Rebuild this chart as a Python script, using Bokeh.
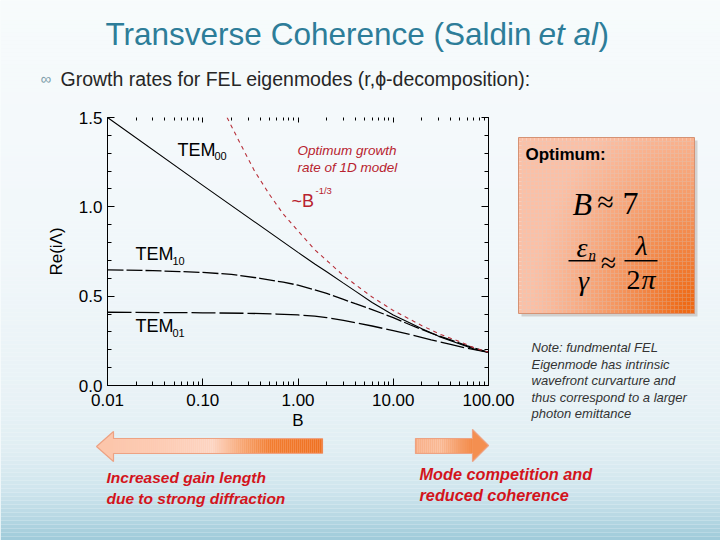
import math
from bokeh.plotting import figure
from bokeh.models import (Range1d, FixedTicker, NumeralTickFormatter, LogAxis, LinearAxis,
                          Label, GridBox)
from bokeh.embed import file_html
from bokeh.resources import INLINE

# ---------------- data ----------------
b_tem00 = [0.01, 0.1, 1, 1.5, 2, 3, 4, 6, 10, 15, 20, 30, 50, 70, 100]
re_tem00 = [1.50, 1.12, 0.745, 0.68, 0.637, 0.573, 0.528, 0.465, 0.395, 0.35, 0.318, 0.275,
            0.232, 0.205, 0.186]
b_tem10 = [0.01, 0.03, 0.1, 0.2, 0.4, 0.7, 1, 1.5, 2, 3, 4, 6, 10, 15, 25, 40, 60, 100]
re_tem10 = [0.647, 0.643, 0.633, 0.622, 0.600, 0.578, 0.562, 0.535, 0.515, 0.482, 0.458,
            0.425, 0.38, 0.34, 0.293, 0.255, 0.222, 0.186]
b_tem01 = [0.01, 0.1, 0.3, 0.6, 1, 1.5, 2, 3, 4, 6, 10, 15, 25, 40, 60, 100]
re_tem01 = [0.41, 0.407, 0.404, 0.40, 0.395, 0.388, 0.38, 0.365, 0.352, 0.333, 0.307, 0.285,
            0.255, 0.23, 0.208, 0.186]
b_opt = [0.18, 0.25, 0.35, 0.5, 0.7, 1, 1.5, 2, 3, 4, 6, 10, 15, 20, 30, 50, 70, 100]
re_opt = [1.50, 1.35, 1.20, 1.07, 0.96, 0.865, 0.76, 0.70, 0.615, 0.565, 0.495, 0.42, 0.37,
          0.335, 0.29, 0.245, 0.212, 0.186]
x_ticks = [0.01, 0.1, 1, 10, 100]
y_ticks = [0.0, 0.5, 1.0, 1.5]
x_label = "B"
y_label = "Re(iΛ)"
title_main = "Transverse Coherence (Saldin "
title_it = "et al"
bullet_text = "Growth rates for FEL eigenmodes (r,ϕ-decomposition):"
note_lines = ["Note: fundmental FEL", "Eigenmode has intrinsic", "wavefront curvarture and",
              "thus correspond to a larger", "photon emittance"]
left_text = ["Increased gain length", "due to strong diffraction"]
right_text = ["Mode competition and", "reduced coherence"]

W, H = 720, 540


def hex2rgb(h):
    h = h.lstrip("#")
    return tuple(int(h[i:i + 2], 16) for i in (0, 2, 4))


def mix(c0, c1, f):
    a, b = hex2rgb(c0), hex2rgb(c1)
    f = max(0.0, min(1.0, f))
    return "#%02x%02x%02x" % tuple(int(round(a[i] + (b[i] - a[i]) * f)) for i in range(3))


def interp(stops, t):
    if t <= stops[0][0]:
        return stops[0][1]
    for (t0, c0), (t1, c1) in zip(stops, stops[1:]):
        if t0 <= t <= t1:
            return mix(c0, c1, (t - t0) / (t1 - t0))
    return stops[-1][1]


# =============== background slide figure (pixel coordinates, y downwards) ===============
bg = figure(width=W, height=H, x_range=Range1d(0, W), y_range=Range1d(H, 0),
            output_backend="svg", toolbar_location=None, min_border=0,
            x_axis_location=None, y_axis_location=None, frame_align=False)
bg.grid.visible = False
bg.outline_line_color = None
bg.background_fill_color = "#f4f9fb"
bg.border_fill_color = "#f4f9fb"


def quads(ls, rs, ts, bs, colors, alpha=1.0, line=None):
    bg.quad(left=ls, right=rs, top=ts, bottom=bs, fill_color=colors, fill_alpha=alpha,
            line_color=line)


def lab(fig, x, y, text, size, color="black", font="Liberation Sans", style="normal",
        align="left", baseline="middle", units="data"):
    fig.add_layout(Label(x=x, y=y, x_units=units, y_units=units, text=text,
                         text_font=font, text_font_size=f"{size}px", text_color=color,
                         text_font_style=style, text_align=align, text_baseline=baseline))


# vertical gradient of the slide
bg_stops = [(0, "#f7fbfc"), (250, "#f1f7fa"), (400, "#e8f2f6"), (450, "#e0eef3"),
            (490, "#cfe5ed"), (515, "#b9d9e4"), (540, "#9ecad9")]
step = 4
ys0 = list(range(0, H, step))
quads([0] * len(ys0), [W] * len(ys0), ys0, [y + step for y in ys0],
      [interp(bg_stops, y + step / 2) for y in ys0])

# ---- optimum box ----
BL, BR, BT, BB = 518, 694, 137, 313
bg.quad(left=BL + 3, right=BR + 3, top=BT + 3, bottom=BB + 3, fill_color="#8a7a70",
        fill_alpha=0.3, line_color=None)
cell = 4
cl, cr, ct, cb, cc = [], [], [], [], []
for x0 in range(BL, BR, cell):
    for y0 in range(BT, BB, cell):
        x1, y1 = min(x0 + cell, BR), min(y0 + cell, BB)
        d = math.hypot(BR - (x0 + x1) / 2, (BB - (y0 + y1) / 2) / 1.35)
        f = max(0.0, 1 - d / 165) ** 1.25
        cl.append(x0); cr.append(x1); ct.append(y0); cb.append(y1)
        cc.append(mix("#fbc0a6", "#ef6a16", f * 1.1))
quads(cl, cr, ct, cb, cc)
bg.quad(left=BL, right=BR, top=BT, bottom=BB, fill_color=None, line_color="#d59274",
        line_width=1)

# ---- arrows ----
AR = 322
bg.patch([96, 113, 113, AR, AR, 113, 113, 96], [446, 431, 438, 438, 453, 453, 461, 446],
         fill_color="#fcc6ab", line_color="#eda283", line_width=1.2)
arr_stops = [(113, "#fcc7ad"), (160, "#fdcdb6"), (212, "#fdd9c9"), (242, "#f7a774"),
             (270, "#f27d30"), (AR, "#ef7020")]
xs_l = list(range(113, AR, 2))
quads(xs_l, [min(x + 2, AR) for x in xs_l], [438.6] * len(xs_l), [452.4] * len(xs_l),
      [interp(arr_stops, x + 1) for x in xs_l])
bg.patch([415, 472, 472, 488, 472, 472, 415, 415], [438, 438, 429, 445, 461, 453, 453, 438],
         fill_color="#f59a62", line_color="#eda283", line_width=1.2)
arr2_stops = [(415, "#f9b897"), (440, "#fbc4a6"), (460, "#f59c66"), (472, "#f38a48")]
xs_r = list(range(416, 472, 2))
quads(xs_r, [min(x + 2, 472) for x in xs_r], [438.6] * len(xs_r), [452.4] * len(xs_r),
      [interp(arr2_stops, x + 1) for x in xs_r])
bg.patch([472.5, 487, 472.5], [430.5, 445, 459.5], fill_color="#f48f50", line_color=None)

# ---- texts ----
tcol = "#2d7d99"
lab(bg, 105, 33, title_main, 31.5, color=tcol)
lab(bg, 538, 33, title_it, 31.5, color=tcol, style="italic")
lab(bg, 598, 33, ")", 31.5, color=tcol)
lab(bg, 40, 78, "∞", 15, color="#7f9eab")
lab(bg, 60, 78, bullet_text, 19.5, color="#262626")

lab(bg, 525, 154, "Optimum:", 17, style="bold")
serif = "Liberation Serif"
lab(bg, 572, 203, "B", 32, font=serif, style="italic")
lab(bg, 605, 201, "≈", 30, font=serif, align="center")
lab(bg, 630, 203, "7", 32, font=serif, align="center")
lab(bg, 576, 247, "ε", 28, font=serif, style="italic")
lab(bg, 588, 254, "n", 15, font=serif, style="italic")
bg.quad(left=568, right=595, top=259.5, bottom=261, fill_color="black", line_color=None)
lab(bg, 583, 280, "γ", 28, font=serif, style="italic", align="center")
lab(bg, 608, 262, "≈", 28, font=serif, align="center")
lab(bg, 641, 245, "λ", 28, font=serif, style="italic", align="center")
bg.quad(left=624, right=657, top=259.5, bottom=261, fill_color="black", line_color=None)
lab(bg, 633, 279, "2", 28, font=serif, align="center")
lab(bg, 648, 279, "π", 28, font=serif, style="italic", align="center")

for i, t in enumerate(note_lines):
    lab(bg, 531, 347 + i * 16.5, t, 13, color="#333333", style="italic")

rcol = "#d3141c"
lab(bg, 106, 477, left_text[0], 15.5, color=rcol, style="bold italic")
lab(bg, 106, 498, left_text[1], 15.5, color=rcol, style="bold italic")
lab(bg, 419, 473, right_text[0], 16.3, color=rcol, style="bold italic")
lab(bg, 419, 494, right_text[1], 16.3, color=rcol, style="bold italic")

# =============== chart figure (transparent, overlaid) ===============
p = figure(width=W, height=H, x_axis_type="log",
           x_range=Range1d(0.01, 100), y_range=Range1d(0, 1.5),
           output_backend="svg", toolbar_location=None, frame_align=False,
           min_border_left=107, min_border_right=232, min_border_top=117, min_border_bottom=155)
p.grid.visible = False
p.outline_line_color = None
p.background_fill_color = None
p.border_fill_color = None

p.line(b_tem00, re_tem00, line_color="black", line_width=1.1)
p.line(b_tem10, re_tem10, line_color="black", line_width=1.3, line_dash="16 3")
p.line(b_tem01, re_tem01, line_color="black", line_width=1.3, line_dash="24 4")
p.line(b_opt, re_opt, line_color="#b8303a", line_width=1.1, line_dash="4 4")

minor_x = [m * 10 ** e for e in range(-2, 2) for m in range(2, 10)]
minor_y = [i / 10 for i in range(0, 16)]

xa = p.xaxis[0]
xa.ticker = FixedTicker(ticks=x_ticks, minor_ticks=minor_x)
xa.formatter = NumeralTickFormatter(format="0.00")
ya = p.yaxis[0]
ya.ticker = FixedTicker(ticks=y_ticks, minor_ticks=minor_y)
ya.formatter = NumeralTickFormatter(format="0.0")
xa.axis_label = x_label
ya.axis_label = y_label

top = LogAxis(ticker=FixedTicker(ticks=x_ticks, minor_ticks=minor_x))
right = LinearAxis(ticker=FixedTicker(ticks=y_ticks, minor_ticks=minor_y))
p.add_layout(top, "above")
p.add_layout(right, "right")

for ax in (xa, ya, top, right):
    ax.major_tick_in = 7
    ax.major_tick_out = 0
    ax.minor_tick_in = 4
    ax.minor_tick_out = 0
    ax.axis_line_color = "black"
    ax.major_tick_line_color = "black"
    ax.minor_tick_line_color = "black"
    ax.major_label_text_font = "Liberation Sans"
    ax.major_label_text_font_size = "17px"
    ax.major_label_text_color = "black"
    ax.axis_label_text_font = "Liberation Sans"
    ax.axis_label_text_font_size = "17px"
    ax.axis_label_text_font_style = "normal"
    ax.axis_label_text_color = "black"
for ax in (top, right):
    ax.major_label_text_alpha = 0
    ax.major_label_text_font_size = "6px"
    ax.major_label_standoff = 0
top.axis_line_color = None
top.major_tick_in = 5
top.minor_tick_in = 3
xa.major_label_standoff = 8
xa.axis_label_standoff = 2
ya.major_label_standoff = 5
ya.axis_label_standoff = 10

# curve labels (canvas pixel positions)
lab(p, 177, 149, "TEM", 18, units="canvas")
lab(p, 214, 155, "00", 11, units="canvas")
lab(p, 135, 253, "TEM", 18, units="canvas")
lab(p, 172, 260, "10", 11, units="canvas")
lab(p, 135, 325, "TEM", 18, units="canvas")
lab(p, 172, 332, "01", 11, units="canvas")
red = "#b8232f"
lab(p, 297, 150, "Optimum growth", 13.5, color=red, style="italic", units="canvas")
lab(p, 297, 167, "rate of 1D model", 13.5, color=red, style="italic", units="canvas")
lab(p, 291, 200, "~B", 18, color=red, units="canvas")
lab(p, 315, 190, "-1/3", 9.5, color=red, units="canvas")

layout = GridBox(children=[(bg, 0, 0), (p, 0, 0)])
open("out.html", "w").write(file_html(layout, INLINE))
